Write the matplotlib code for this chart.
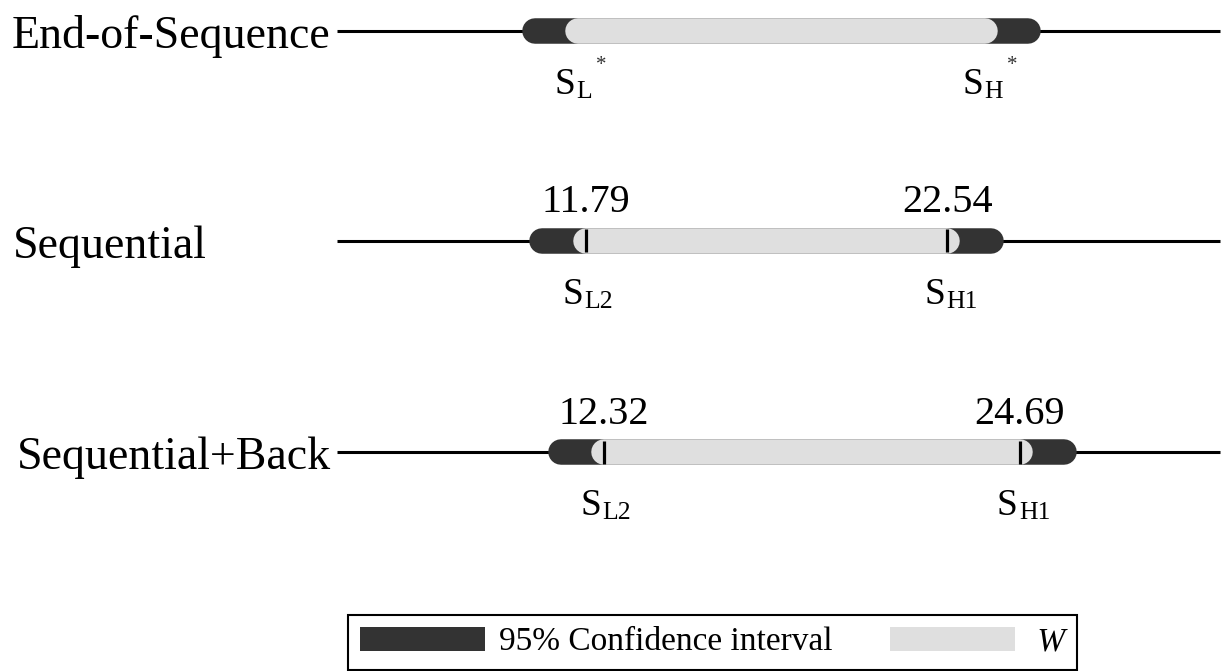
import matplotlib
matplotlib.use('Agg')
import matplotlib.pyplot as plt
from matplotlib.patches import Patch

plt.rcParams['font.family'] = ['Liberation Serif', 'DejaVu Serif']

# ---- data ----
methods = ['End-of-Sequence', 'Sequential', 'Sequential+Back']
ci_low = [10.28, 10.49, 11.05]
ci_high = [24.93, 23.83, 26.00]
w_low = [11.55, 11.79, 12.32]
w_high = [23.67, 22.54, 24.69]
show_values = [False, True, True]
low_sub = ['L', 'L2', 'L2']
high_sub = ['H', 'H1', 'H1']
starred = [True, False, False]
scale_start = 4.40
scale_end = 30.64
legend_labels = ['95% Confidence interval', 'W']

# ---- layout ----
W_PX, H_PX = 1225, 671
PX = 33.65          # pixels per value unit
X0 = 189            # pixel position of value 0
DARK = '#333333'
LIGHT = '#dfdfdf'

fig = plt.figure(figsize=(W_PX / 100, H_PX / 100), dpi=100)
ax = fig.add_axes([0, 0, 1, 1])
ax.set_xlim(-X0 / PX, (W_PX - X0) / PX)
ax.set_ylim(H_PX, 0)
ax.axis('off')

row_y = [30.5, 240.5, 452]
label_x_px = [12, 13, 17]
bar_h_px = 25.5
bar_lw = bar_h_px * 72 / 100   # line width in points -> round caps = semicircles

ax.hlines(row_y, scale_start, scale_end, color='black', lw=2.2, zorder=1)

for i, y in enumerate(row_y):
    ax.plot([ci_low[i], ci_high[i]], [y, y], color=DARK, lw=bar_lw,
            solid_capstyle='round', zorder=2)
    ax.plot([w_low[i], w_high[i]], [y, y], color=LIGHT, lw=bar_lw,
            solid_capstyle='round', zorder=3)
    ax.annotate(methods[i], xy=(label_x_px[i] / W_PX, y), xycoords=('axes fraction', 'data'),
                xytext=(0, -17), textcoords='offset pixels',
                ha='left', va='baseline', fontsize=33)
    if show_values[i]:
        ax.vlines([w_low[i], w_high[i]], y - 11.5, y + 11.5, color='black', lw=2.3, zorder=4)
        for v in (w_low[i], w_high[i]):
            ax.annotate(f'{v:.2f}', xy=(v, y), xytext=(0, 28), textcoords='offset pixels',
                        ha='center', va='baseline', fontsize=29)
    for v, sub in ((w_low[i], low_sub[i]), (w_high[i], high_sub[i])):
        ax.annotate('S', xy=(v, y), xytext=(-2.5, -63), textcoords='offset pixels',
                    ha='right', va='baseline', fontsize=27)
        st = ax.annotate(sub, xy=(v, y), xytext=(-1, -67), textcoords='offset pixels',
                         ha='left', va='baseline', fontsize=18.5)
        if starred[i]:
            ax.annotate('*', xy=(1, y), xycoords=(st, 'data'),
                        xytext=(4, -39), textcoords='offset pixels',
                        ha='left', va='baseline', fontsize=15, color='#333333')

handles = [Patch(fc=DARK, ec='none', label=legend_labels[0]),
           Patch(fc=LIGHT, ec='none', label=' ' + legend_labels[1])]
leg = fig.legend(handles=handles, loc='lower center', ncol=2,
                 bbox_to_anchor=(712.5 / W_PX, 1.5 / H_PX), bbox_transform=fig.transFigure,
                 borderaxespad=0, fontsize=24, handlelength=3.75, handleheight=0.72,
                 handletextpad=0.4, columnspacing=1.74, borderpad=0.36,
                 frameon=True, fancybox=False, edgecolor='black', framealpha=1)
leg.get_frame().set_linewidth(1.5)
leg.get_texts()[1].set_fontstyle('italic')

fig.savefig('out.png', dpi=100)
